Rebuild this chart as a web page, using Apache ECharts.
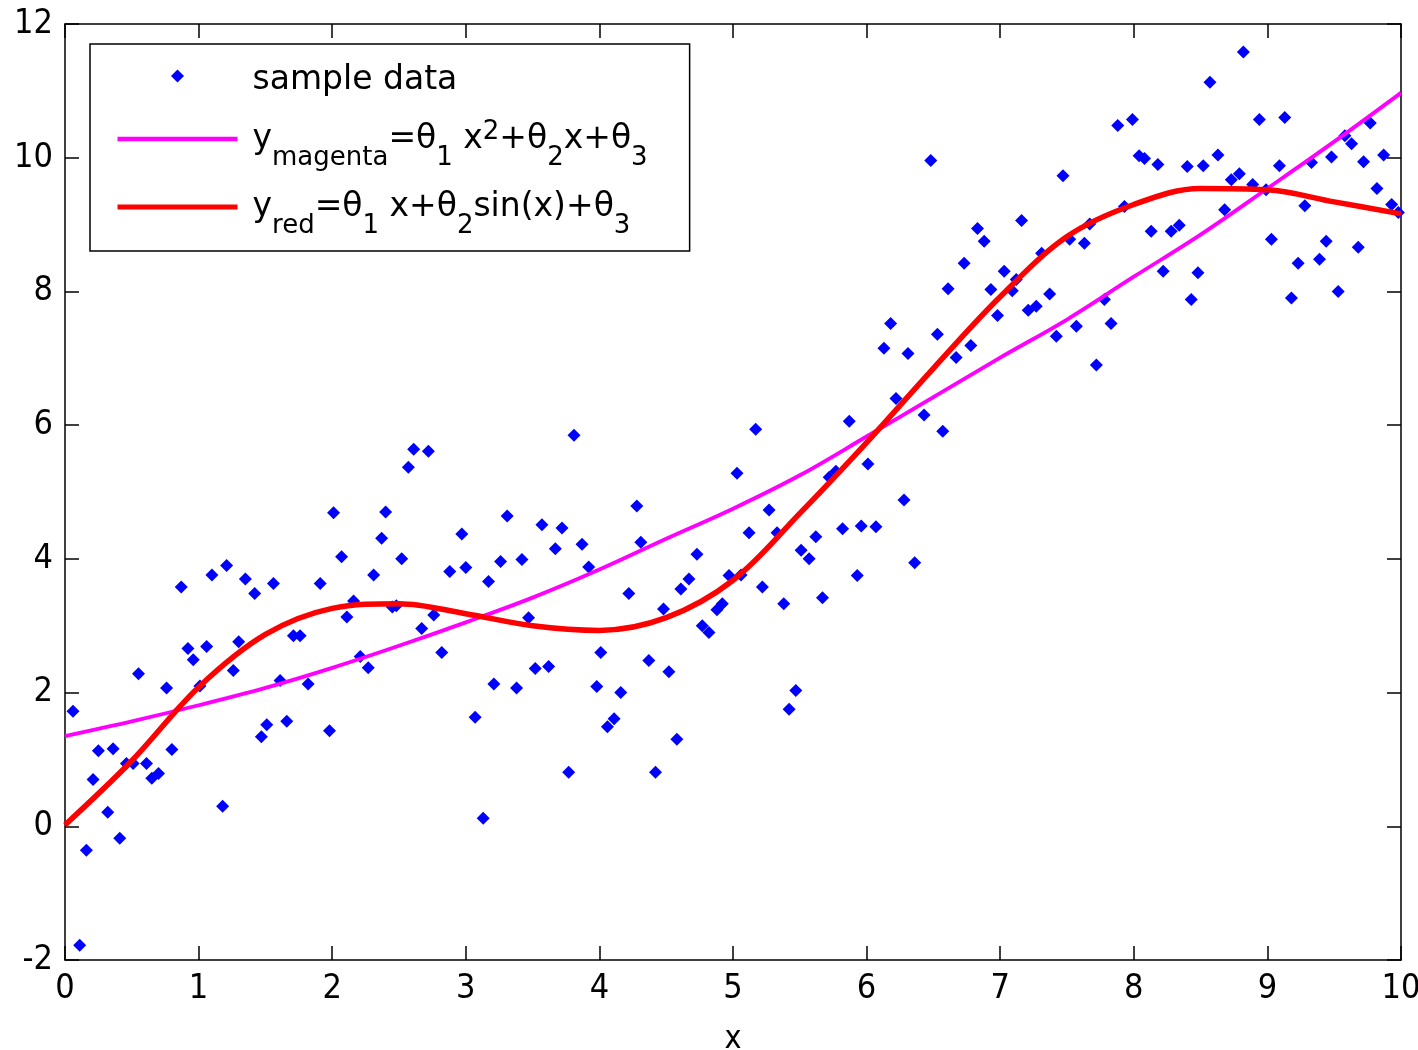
<!DOCTYPE html>
<html>
<head>
<meta charset="utf-8">
<script src="https://cdn.jsdelivr.net/npm/echarts@6/dist/echarts.min.js"></script>
<style>
  html, body { margin: 0; padding: 0; background: #fff; }
  #chart { width: 1418px; height: 1050px; }
</style>
</head>
<body>
<div id="chart"></div>
<script>
// sample points
const sampleX = [
  0.06, 0.11, 0.16, 0.21, 0.25, 0.32, 0.36, 0.41, 0.46, 0.51, 0.55, 0.61, 0.65, 0.70, 0.76, 0.80,
  0.87, 0.92, 0.96, 1.01, 1.06, 1.10, 1.18, 1.21, 1.26, 1.30, 1.35, 1.42, 1.47, 1.51, 1.56, 1.61,
  1.66, 1.71, 1.76, 1.82, 1.91, 1.98, 2.01, 2.07, 2.11, 2.16, 2.21, 2.27, 2.31, 2.37, 2.40, 2.45,
  2.48, 2.52, 2.57, 2.61, 2.67, 2.72, 2.76, 2.82, 2.88, 2.97, 3.00, 3.07, 3.13, 3.17, 3.21, 3.26,
  3.31, 3.38, 3.42, 3.47, 3.52, 3.57, 3.62, 3.67, 3.72, 3.77, 3.81, 3.87, 3.92, 3.98, 4.01, 4.06,
  4.11, 4.16, 4.22, 4.28, 4.31, 4.37, 4.42, 4.48, 4.52, 4.58, 4.61, 4.67, 4.73, 4.77, 4.82, 4.88,
  4.92, 4.97, 5.03, 5.06, 5.12, 5.17, 5.22, 5.27, 5.33, 5.38, 5.42, 5.47, 5.51, 5.57, 5.62, 5.67,
  5.72, 5.77, 5.82, 5.87, 5.93, 5.96, 6.01, 6.07, 6.13, 6.18, 6.22, 6.28, 6.31, 6.36, 6.43, 6.48,
  6.53, 6.57, 6.61, 6.67, 6.73, 6.78, 6.83, 6.88, 6.93, 6.98, 7.03, 7.09, 7.12, 7.16, 7.21, 7.27,
  7.31, 7.37, 7.42, 7.47, 7.52, 7.57, 7.63, 7.67, 7.72, 7.78, 7.83, 7.88, 7.93, 7.99, 8.04, 8.08,
  8.13, 8.18, 8.22, 8.28, 8.34, 8.40, 8.43, 8.48, 8.52, 8.57, 8.63, 8.68, 8.73, 8.79, 8.82, 8.89,
  8.94, 8.99, 9.03, 9.09, 9.13, 9.18, 9.23, 9.28, 9.33, 9.39, 9.44, 9.48, 9.53, 9.58, 9.63, 9.68,
  9.72, 9.77, 9.82, 9.87, 9.93, 9.98
];
const sampleY = [
  1.72, -1.78, -0.36, 0.70, 1.13, 0.21, 1.16, -0.18, 0.94, 0.94, 2.28, 0.94, 0.72, 0.79, 2.07, 1.15,
  3.58, 2.66, 2.49, 2.10, 2.69, 3.76, 0.30, 3.90, 2.33, 2.76, 3.70, 3.48, 1.34, 1.52, 3.63, 2.18,
  1.57, 2.85, 2.85, 2.13, 3.63, 1.43, 4.69, 4.03, 3.13, 3.37, 2.54, 2.37, 3.76, 4.31, 4.70, 3.28,
  3.30, 4.00, 5.37, 5.64, 2.96, 5.61, 3.16, 2.60, 3.81, 4.37, 3.87, 1.63, 0.12, 3.66, 2.13, 3.96,
  4.64, 2.07, 3.99, 3.12, 2.36, 4.51, 2.39, 4.15, 4.46, 0.81, 5.85, 4.22, 3.88, 2.09, 2.60, 1.49,
  1.61, 2.00, 3.48, 4.79, 4.25, 2.48, 0.81, 3.25, 2.31, 1.30, 3.55, 3.70, 4.07, 3.00, 2.90, 3.24,
  3.33, 3.75, 5.28, 3.76, 4.39, 5.94, 3.58, 4.73, 4.39, 3.33, 1.75, 2.03, 4.13, 4.00, 4.33, 3.42,
  5.22, 5.31, 4.45, 6.06, 3.75, 4.49, 5.42, 4.48, 7.15, 7.52, 6.40, 4.88, 7.07, 3.94, 6.15, 9.96,
  7.36, 5.91, 8.04, 7.01, 8.42, 7.19, 8.94, 8.75, 8.03, 7.64, 8.30, 8.01, 8.18, 9.06, 7.72, 7.78,
  8.57, 7.96, 7.33, 9.73, 8.78, 7.48, 8.72, 9.01, 6.90, 7.88, 7.52, 10.48, 9.27, 10.57, 10.03, 9.99,
  8.90, 9.90, 8.30, 8.90, 8.99, 9.87, 7.88, 8.28, 9.88, 11.13, 10.04, 9.22, 9.67, 9.76, 11.58, 9.60,
  10.57, 9.52, 8.78, 9.88, 10.60, 7.90, 8.42, 9.28, 9.93, 8.48, 8.75, 10.01, 8.00, 10.33, 10.21, 8.66,
  9.94, 10.52, 9.54, 10.04, 9.30, 9.18
];

// the two fitted curves, read every 0.5 along x
const curveX = [0, 0.5, 1, 1.5, 2, 2.5, 3, 3.5, 4, 4.5, 5, 5.5, 6, 6.5, 7, 7.5, 8, 8.5, 9, 9.5, 10];
const magentaY = [1.35, 1.57, 1.81, 2.07, 2.37, 2.70, 3.05, 3.42, 3.84, 4.30, 4.75, 5.25, 5.83, 6.42, 7.01, 7.58, 8.22, 8.85, 9.54, 10.24, 10.97];
const redY = [0.02, 0.98, 2.08, 2.87, 3.26, 3.33, 3.18, 3.00, 2.93, 3.12, 3.68, 4.68, 5.74, 6.85, 7.92, 8.82, 9.30, 9.54, 9.52, 9.34, 9.16];

const xTicks = { min: 0, max: 10, interval: 1 };
const yTicks = { min: -2, max: 12, interval: 2 };

const TICK_FONT = '"DejaVu Sans Condensed", "DejaVu Sans", sans-serif';
const LEGEND_FONT = '"DejaVu Sans", sans-serif';

const pairs = (xs, ys) => xs.map((x, i) => [x, ys[i]]);

const legendText = {
  'sample data': '{plain|sample data}',
  'magenta': 'y{sub|magenta}=θ{sub|1} x{sup|2}+θ{sub|2}x+θ{sub|3}',
  'red': 'y{sub|red}=θ{sub|1} x+θ{sub|2}sin(x)+θ{sub|3}',
};

const axisCommon = {
  type: 'value',
  axisLine: { show: true, onZero: false, lineStyle: { color: '#000', width: 1.5 } },
  axisTick: { show: true, inside: true, length: 14, lineStyle: { color: '#000', width: 1.5 } },
  splitLine: { show: false },
};

const chart = echarts.init(document.getElementById('chart'));

chart.setOption({
  animation: false,
  backgroundColor: '#fff',
  grid: { left: 65, right: 17, top: 24, bottom: 90, outerBoundsMode: 'none' },
  xAxis: [
    {
      ...axisCommon, ...xTicks, position: 'bottom',
      name: 'x', nameLocation: 'middle', nameGap: 64,
      nameTextStyle: { fontFamily: TICK_FONT, fontSize: 32, color: '#000' },
      axisLabel: { margin: 12, fontFamily: TICK_FONT, fontSize: 34, color: '#000' },
    },
    { ...axisCommon, ...xTicks, position: 'top', axisLabel: { show: false } },
  ],
  yAxis: [
    {
      ...axisCommon, ...yTicks, position: 'left',
      axisLabel: { margin: 12, fontFamily: TICK_FONT, fontSize: 34, color: '#000' },
    },
    { ...axisCommon, ...yTicks, position: 'right', axisLabel: { show: false } },
  ],
  legend: {
    orient: 'vertical',
    left: 90,
    top: 44,
    padding: [5, 42, 12, 25],
    itemWidth: 120,
    itemHeight: 13,
    itemGap: 4,
    borderColor: '#000',
    borderWidth: 1.5,
    backgroundColor: '#fff',
    data: [
      { name: 'sample data', icon: 'path://M0,-1L1,0L0,1L-1,0Z' },
      { name: 'magenta', itemStyle: { opacity: 0 }, lineStyle: { width: 4.5 } },
      { name: 'red', itemStyle: { opacity: 0 }, lineStyle: { width: 5 } },
    ],
    formatter: (name) => legendText[name],
    textStyle: {
      fontFamily: LEGEND_FONT,
      fontSize: 33,
      color: '#000',
      lineHeight: 64,
      padding: [0, 0, 0, 10],
      rich: {
        plain: { fontFamily: LEGEND_FONT, fontSize: 33, lineHeight: 54, padding: [8, 0, 0, 0] },
        sub: { fontFamily: LEGEND_FONT, fontSize: 26, verticalAlign: 'bottom' },
        sup: { fontFamily: LEGEND_FONT, fontSize: 26, verticalAlign: 'top', padding: [12, 0, 0, 0] },
      },
    },
  },
  series: [
    {
      name: 'sample data',
      type: 'scatter',
      symbol: 'diamond',
      symbolSize: 13,
      itemStyle: { color: '#0000ff', opacity: 1 },
      data: pairs(sampleX, sampleY),
    },
    {
      name: 'magenta',
      type: 'line',
      smooth: 0.35,
      symbol: 'none',
      lineStyle: { color: '#ff00ff', width: 3.8 },
      itemStyle: { color: '#ff00ff' },
      data: pairs(curveX, magentaY),
    },
    {
      name: 'red',
      type: 'line',
      smooth: 0.35,
      symbol: 'none',
      lineStyle: { color: '#ff0000', width: 5.5 },
      itemStyle: { color: '#ff0000' },
      data: pairs(curveX, redY),
    },
  ],
});
</script>
</body>
</html>
